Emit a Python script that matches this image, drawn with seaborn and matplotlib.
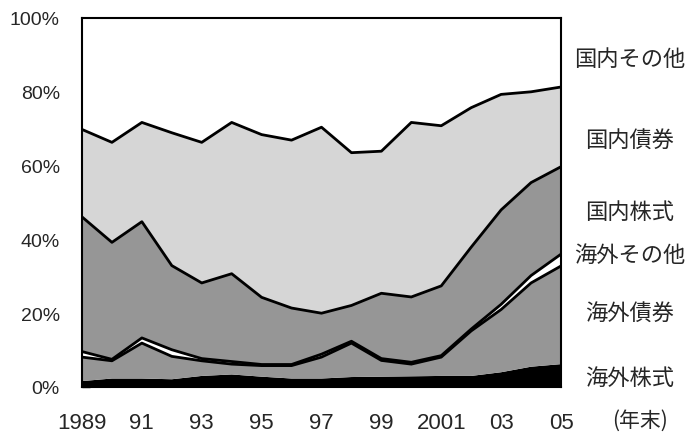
import numpy as np
import pandas as pd
import seaborn as sns
import matplotlib.pyplot as plt

# data (share of total, %)
years = list(range(1989, 2006))
kaigai_kabu = [1.6, 2.3, 2.3, 2.1, 3.0, 3.4, 2.8, 2.3, 2.3, 2.7, 2.8, 2.9, 3.0, 3.0, 4.0, 5.5, 6.2]
kaigai_sai = [6.5, 4.8, 9.6, 6.2, 4.1, 2.8, 3.0, 3.5, 5.8, 9.2, 4.4, 3.3, 5.1, 12.2, 17.0, 22.7, 26.6]
kaigai_other = [1.5, 0.4, 1.4, 1.8, 0.6, 0.7, 0.3, 0.3, 0.8, 0.5, 0.5, 0.5, 0.4, 0.5, 1.4, 2.0, 3.2]
kokunai_kabu = [36.5, 31.7, 31.5, 22.8, 20.5, 23.8, 18.2, 15.3, 11.1, 9.7, 17.7, 17.7, 18.9, 22.2, 25.6, 25.2, 23.7]
kokunai_sai = [23.7, 27.1, 26.9, 36.0, 38.1, 41.0, 44.1, 45.5, 50.4, 41.4, 38.5, 47.3, 43.4, 37.8, 31.3, 24.6, 21.6]
kokunai_other = [30.2, 33.7, 28.3, 31.1, 33.7, 28.3, 31.6, 33.1, 29.6, 36.5, 36.1, 28.3, 29.2, 24.3, 20.7, 20.0, 18.7]

layer_names = ['海外株式', '海外債券', '海外その他', '国内株式', '国内債券', '国内その他']
layer_colors = ['#000000', '#969696', '#ffffff', '#969696', '#d6d6d6', '#ffffff']
x_ticks = [1989, 1991, 1993, 1995, 1997, 1999, 2001, 2003, 2005]
x_ticklabels = ['1989', '91', '93', '95', '97', '99', '2001', '03', '05']
label_y_px = [378, 313, 255, 213, 140, 59]

df = pd.DataFrame({'year': years, '海外株式': kaigai_kabu, '海外債券': kaigai_sai,
                   '海外その他': kaigai_other, '国内株式': kokunai_kabu,
                   '国内債券': kokunai_sai, '国内その他': kokunai_other})
cum = df[layer_names].cumsum(axis=1)

sns.set_style('white')
plt.rcParams['font.family'] = ['Liberation Sans', 'Noto Sans CJK JP', 'DejaVu Sans']

fig = plt.figure(figsize=(6.9, 4.35), dpi=100)
ax = fig.add_axes([82/690, 1-388/435, (561-82)/690, (388-19)/435])

lower = np.zeros(len(years))
for name, col in zip(layer_names, layer_colors):
    upper = cum[name].values
    ax.fill_between(df['year'], lower, upper, facecolor=col, edgecolor='none', linewidth=0)
    lower = upper

# black boundary lines
for name in ['海外債券', '海外その他', '国内株式', '国内債券']:
    sns.lineplot(x=df['year'], y=cum[name], color='black', linewidth=2, ax=ax)

ax.set_xlim(1989, 2005)
ax.set_ylim(0, 100)
ax.set_xlabel('')
ax.set_ylabel('')
ax.set_xticks(x_ticks)
ax.set_xticklabels(x_ticklabels, fontsize=16)
ax.set_yticks([0, 20, 40, 60, 80, 100])
ax.set_yticklabels(['0%', '20%', '40%', '60%', '80%', '100%'], fontsize=14)
ax.tick_params(axis='x', length=0, pad=18)
ax.tick_params(axis='y', direction='in', length=6, width=1, color='black', pad=16, left=True)
for s in ax.spines.values():
    s.set_color('black')
    s.set_linewidth(1.5)

for name, ypx in zip(layer_names, label_y_px):
    fig.text(630/690, 1 - ypx/435, name, ha='center', va='center', fontsize=16,
             family=['Noto Sans CJK JP', 'DejaVu Sans'])
fig.text(640/690, 1 - 421/435, '(年末)', ha='center', va='center', fontsize=15,
         family=['Noto Sans CJK JP', 'DejaVu Sans'])

fig.savefig('out.png', dpi=100)
